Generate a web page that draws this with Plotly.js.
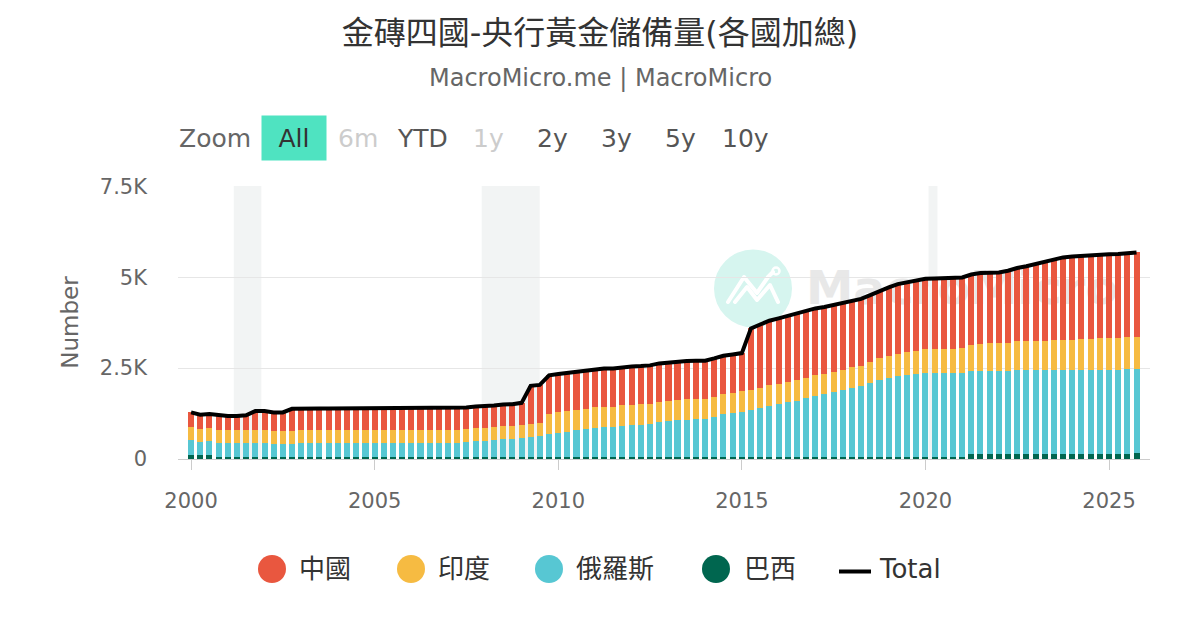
<!DOCTYPE html>
<html>
<head>
<meta charset="utf-8">
<script src="https://cdn.plot.ly/plotly-3.0.1.min.js"></script>
<style>html,body{margin:0;padding:0;background:#fff;}#chart{width:1200px;height:630px;}</style>
</head>
<body>
<div id="chart"></div>
<script>
// ---------- DATA ----------
const quarters = [
"2000-01-01","2000-04-01","2000-07-01","2000-10-01","2001-01-01","2001-04-01","2001-07-01","2001-10-01",
"2002-01-01","2002-04-01","2002-07-01","2002-10-01","2003-01-01","2003-04-01","2003-07-01","2003-10-01",
"2004-01-01","2004-04-01","2004-07-01","2004-10-01","2005-01-01","2005-04-01","2005-07-01","2005-10-01",
"2006-01-01","2006-04-01","2006-07-01","2006-10-01","2007-01-01","2007-04-01","2007-07-01","2007-10-01",
"2008-01-01","2008-04-01","2008-07-01","2008-10-01","2009-01-01","2009-04-01","2009-07-01","2009-10-01",
"2010-01-01","2010-04-01","2010-07-01","2010-10-01","2011-01-01","2011-04-01","2011-07-01","2011-10-01",
"2012-01-01","2012-04-01","2012-07-01","2012-10-01","2013-01-01","2013-04-01","2013-07-01","2013-10-01",
"2014-01-01","2014-04-01","2014-07-01","2014-10-01","2015-01-01","2015-04-01","2015-07-01","2015-10-01",
"2016-01-01","2016-04-01","2016-07-01","2016-10-01","2017-01-01","2017-04-01","2017-07-01","2017-10-01",
"2018-01-01","2018-04-01","2018-07-01","2018-10-01","2019-01-01","2019-04-01","2019-07-01","2019-10-01",
"2020-01-01","2020-04-01","2020-07-01","2020-10-01","2021-01-01","2021-04-01","2021-07-01","2021-10-01",
"2022-01-01","2022-04-01","2022-07-01","2022-10-01","2023-01-01","2023-04-01","2023-07-01","2023-10-01",
"2024-01-01","2024-04-01","2024-07-01","2024-10-01","2025-01-01","2025-04-01","2025-07-01","2025-10-01"
];

// 巴西 (Brazil)
const brazil = [
120,120,120,60,60,60,60,60, 60,60,60,60,60,60,60,60, 60,60,60,60,60,60,60,60,
60,60,60,60,60,60,60,60, 60,60,60,60,60,60,60,60, 60,60,60,60,60,60,60,60,
60,60,60,67,67,67,67,67, 67,67,67,67,67,67,67,67, 67,67,67,67,67,67,67,67,
67,67,67,67,67,67,67,67, 67,67,67,67,67,130,130,130, 130,130,130,130,130,130,130,130,
130,130,130,130,130,130,145,160
];

// 俄羅斯 (Russia)
const russia = [
410,346,364,388,369,369,388,380, 380,343,343,362,372,372,372,372, 372,372,372,372,372,372,372,372,
372,372,372,372,372,390,399,426, 435,454,482,490,527,542,567,630, 665,692,729,765,802,820,820,857,
875,885,903,951,978,997,1015,1024, 1024,1088,1162,1198,1235,1273,1333,1404, 1438,1492,1537,1605,1678,1715,1770,1825,
1900,1930,2015,2120,2170,2210,2245,2270, 2295,2295,2295,2295,2295,2295,2295,2295, 2295,2295,2330,2330,2330,2330,2330,2330,
2330,2330,2330,2330,2330,2330,2330,2320
];

// 印度 (India)
const india = [
358,358,358,358,358,358,358,358, 358,358,358,358,358,358,358,358, 358,358,358,358,358,358,358,358,
358,358,358,358,358,358,358,358, 358,358,358,358,358,358,358,558, 558,558,558,558,558,558,558,558,
558,558,558,558,558,558,558,558, 558,558,558,558,558,558,558,558, 558,558,558,558,558,558,558,558,
560,566,587,598,608,618,618,626, 653,658,668,677,687,705,744,754, 760,768,785,787,795,797,800,803,
822,840,854,876,880,880,880,880
];

// 中國 (China)
const china = [
395,395,395,395,395,395,395,520, 520,520,520,600,600,600,600,600, 600,600,600,600,600,600,600,600,
600,600,600,600,600,600,600,600, 600,600,600,600,600,1054,1054,1054, 1054,1054,1054,1054,1054,1054,1054,1054,
1054,1054,1054,1054,1054,1054,1054,1054, 1054,1054,1054,1054,1054,1695,1745,1775, 1805,1825,1835,1840,1840,1840,1840,1840,
1840,1840,1840,1840,1875,1915,1930,1945, 1945,1945,1945,1945,1945,1945,1945,1945, 1945,1985,2010,2055,2110,2170,2240,2283,
2290,2292,2292,2293,2295,2298,2302,2323
];

const seriesNames = ["中國", "印度", "俄羅斯", "巴西", "Total"];
const yTickVals = [0, 2500, 5000, 7500];
const yTickText = ["0", "2.5K", "5K", "7.5K"];
const xTickVals = ["2000-01-01","2005-01-01","2010-01-01","2015-01-01","2020-01-01","2025-01-01"];
const xTickText = ["2000","2005","2010","2015","2020","2025"];
const recessionStart = ["2001-03-01","2007-12-01","2020-02-01"];
const recessionEnd   = ["2001-11-30","2009-06-30","2020-04-30"];
const rangeButtons = ["Zoom","All","6m","YTD","1y","2y","3y","5y","10y"];

// ---------- STYLE ----------
const FONT = "DejaVu Sans, 'Noto Sans CJK TC', sans-serif";
const colors = {china:"#E9573F", india:"#F6BB42", russia:"#57C7D3", brazil:"#00664F", total:"#000000"};

// total = sum of the four countries
const total = quarters.map((q, i) => brazil[i] + russia[i] + india[i] + china[i]);

const traces = [
  {type:"bar", name:seriesNames[3], x:quarters, y:brazil, marker:{color:colors.brazil}, hoverinfo:"x+y+name"},
  {type:"bar", name:seriesNames[2], x:quarters, y:russia, marker:{color:colors.russia}, hoverinfo:"x+y+name"},
  {type:"bar", name:seriesNames[1], x:quarters, y:india,  marker:{color:colors.india},  hoverinfo:"x+y+name"},
  {type:"bar", name:seriesNames[0], x:quarters, y:china,  marker:{color:colors.china},  hoverinfo:"x+y+name"},
  {type:"scatter", mode:"lines", name:seriesNames[4], x:quarters, y:total, line:{color:colors.total, width:4}, hoverinfo:"x+y+name"}
];

// pixel helpers for decorations (plot area: x 178..1150, y 186..459)
const PL = 178, PW = 972, PB = 459, PH = 273;
const px = v => (v - PL) / PW;
const py = v => (PB - v) / PH;

// watermark
const wm = '<svg xmlns="http://www.w3.org/2000/svg" width="430" height="100" viewBox="0 0 430 100">' +
  '<circle cx="53" cy="48.5" r="39" fill="#d6f5ef"/>' +
  '<polyline points="28,62 44,37 57,53 68,37 73,32" fill="none" stroke="#ffffff" stroke-width="4" stroke-linecap="round" stroke-linejoin="round"/>' +
  '<polyline points="35,62 47,47 57,60 70,45 78,62" fill="none" stroke="#ffffff" stroke-width="4" stroke-linecap="round" stroke-linejoin="round"/>' +
  '<circle cx="76" cy="31" r="3.5" fill="none" stroke="#ffffff" stroke-width="2.5"/>' +
  '<text x="106" y="64" font-family="DejaVu Sans" font-weight="bold" font-size="46" fill="#e8e8e8" textLength="312" lengthAdjust="spacingAndGlyphs">MacroMicro</text>' +
  '</svg>';

const shapes = recessionStart.map((s, i) => ({
  type:"rect", xref:"x", yref:"paper", x0:s, x1:recessionEnd[i], y0:0, y1:1,
  fillcolor:"#f2f4f4", line:{width:0}, layer:"below"
}));

// legend (manual, circle markers)
const legendItems = [
  {label:seriesNames[0], color:colors.china,  cx:272, tx:297},
  {label:seriesNames[1], color:colors.india,  cx:411, tx:436},
  {label:seriesNames[2], color:colors.russia, cx:549, tx:574},
  {label:seriesNames[3], color:colors.brazil, cx:716, tx:742}
];
const LEGY = 569;
legendItems.forEach(it => {
  shapes.push({type:"circle", xref:"paper", yref:"paper", xsizemode:"pixel", ysizemode:"pixel",
    xanchor:px(it.cx), yanchor:py(LEGY), x0:-14, x1:14, y0:-14, y1:14,
    fillcolor:it.color, line:{width:0}});
});
shapes.push({type:"line", xref:"paper", yref:"paper", x0:px(839), x1:px(871), y0:py(571.5), y1:py(571.5),
  line:{color:"#000", width:4}});

const annotations = [];
annotations.push({text:"MacroMicro.me | MacroMicro", xref:"paper", yref:"paper", x:px(600), y:py(78),
  xanchor:"center", yanchor:"middle", showarrow:false, font:{family:FONT, size:24, color:"#666666"}});

legendItems.forEach(it => {
  annotations.push({text:it.label, xref:"paper", yref:"paper", x:px(it.tx), y:py(LEGY), xanchor:"left", yanchor:"middle",
    showarrow:false, font:{family:FONT, size:26, color:"#333333"}});
});
annotations.push({text:seriesNames[4], xref:"paper", yref:"paper", x:px(877), y:py(LEGY), xanchor:"left", yanchor:"middle",
  showarrow:false, font:{family:FONT, size:26, color:"#333333"}});

// range selector look-alike
const btnX = [215, 294, 358, 422, 488, 552, 616, 680, 745];
const btnColor = ["#666666","#333333","#cccccc","#555555","#cccccc","#555555","#555555","#555555","#555555"];
rangeButtons.forEach((b, i) => {
  const a = {text:b, xref:"paper", yref:"paper", x:px(btnX[i]), y:py(138), xanchor:"center", yanchor:"middle",
    showarrow:false, font:{family:FONT, size:25, color:btnColor[i]}};
  if (b === "All") { a.bgcolor = "#4FE3C1"; a.width = 60; a.height = 40; a.borderpad = 2; }
  annotations.push(a);
});

const layout = {
  width:1200, height:630,
  margin:{l:178, r:50, t:186, b:171, pad:0},
  paper_bgcolor:"#ffffff", plot_bgcolor:"#ffffff",
  barmode:"stack", bargap:0.33,
  showlegend:false,
  font:{family:FONT, color:"#666666"},
  title:{text:"金磚四國-央行黃金儲備量(各國加總)", font:{family:FONT, size:32, color:"#333333"},
    x:0.5, xanchor:"center", xref:"container", y:1 - 33/630, yanchor:"middle", yref:"container"},
  xaxis:{type:"date", range:["1999-08-24","2026-02-12"], tickmode:"array", tickvals:xTickVals, ticktext:xTickText,
    ticks:"outside", ticklen:10, tickwidth:1, tickcolor:"#cccccc", showgrid:false, zeroline:false,
    showline:true, linecolor:"#cccccc", linewidth:1, tickfont:{family:FONT, size:21, color:"#666666"},
    ticklabelstandoff:13, fixedrange:true},
  yaxis:{range:[0,7510], tickmode:"array", tickvals:yTickVals, ticktext:yTickText, showgrid:true,
    gridcolor:"#e6e6e6", gridwidth:1, zeroline:false, showline:false, ticks:"",
    tickfont:{family:FONT, size:21, color:"#666666"}, ticklabelstandoff:30, fixedrange:true,
    title:{text:"Number", font:{family:FONT, size:23, color:"#666666"}, standoff:14}},
  shapes:shapes,
  annotations:annotations,
  images:[{source:"data:image/svg+xml;charset=utf-8," + encodeURIComponent(wm), xref:"paper", yref:"paper",
    x:px(700), y:py(240), sizex:430/PW, sizey:100/PH, xanchor:"left", yanchor:"top", sizing:"stretch", layer:"below"}]
};

Plotly.newPlot("chart", traces, layout, {displayModeBar:false, responsive:false});
</script>
</body>
</html>
